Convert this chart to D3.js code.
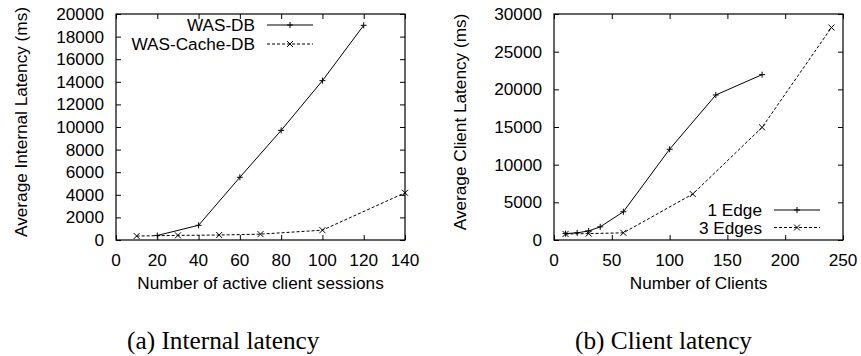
<!DOCTYPE html>
<html>
<head>
<meta charset="utf-8">
<script src="https://cdn.jsdelivr.net/npm/d3@7"></script>
<style>
  body { margin: 0; background: #fff; }
  text { font-family: "Liberation Sans", Arial, sans-serif; fill: #000; }
  .caption { font-family: "Liberation Serif", "Times New Roman", serif; }
</style>
</head>
<body>
<div id="chart"></div>
<script>
// (a) internal latency
var dbX = [20, 40, 60, 80, 100, 120];
var dbY = [400, 1300, 5550, 9700, 14100, 19000];
var cacheX = [10, 30, 50, 70, 100, 140];
var cacheY = [350, 410, 440, 520, 870, 4180];
var leftXTicks = [0, 20, 40, 60, 80, 100, 120, 140];
var leftYTicks = [0, 2000, 4000, 6000, 8000, 10000, 12000, 14000, 16000, 18000, 20000];

// (b) client latency
var edge1X = [10, 20, 30, 40, 60, 100, 140, 180];
var edge1Y = [850, 950, 1200, 1750, 3750, 12050, 19250, 21950];
var edge3X = [10, 30, 60, 120, 180, 240];
var edge3Y = [800, 850, 950, 6100, 14950, 28200];
var rightXTicks = [0, 50, 100, 150, 200, 250];
var rightYTicks = [0, 5000, 10000, 15000, 20000, 25000, 30000];

var W = 861, H = 356;
var fs = 17.2;

var svg = d3.select("#chart").append("svg")
  .attr("width", W).attr("height", H);

function zip(xs, ys) {
  return xs.map(function(x, i) { return { x: x, y: ys[i] }; });
}

function plusMark(g, x, y, s) {
  g.append("path").attr("d", `M${x - s},${y}H${x + s}M${x},${y - s}V${y + s}`)
    .attr("stroke", "#000").attr("stroke-width", 1);
}
function crossMark(g, x, y, s) {
  g.append("path").attr("d", `M${x - s},${y - s}L${x + s},${y + s}M${x - s},${y + s}L${x + s},${y - s}`)
    .attr("stroke", "#000").attr("stroke-width", 1);
}

function panel(cfg) {
  var x = d3.scaleLinear().domain(cfg.xDomain).range([cfg.left, cfg.right]);
  var y = d3.scaleLinear().domain(cfg.yDomain).range([240, 14]);
  var g = svg.append("g");

  // ticks, gnuplot style: inside, mirrored
  var tl = 5;
  g.append("g").attr("transform", "translate(0,240)")
    .call(d3.axisBottom(x).tickValues(cfg.xTicks).tickSizeInner(-tl).tickSizeOuter(0).tickPadding(0))
    .call(a => a.select(".domain").remove())
    .call(a => a.selectAll("text").remove());
  g.append("g").attr("transform", "translate(0,14)")
    .call(d3.axisTop(x).tickValues(cfg.xTicks).tickSizeInner(-tl).tickSizeOuter(0).tickFormat(""))
    .call(a => a.select(".domain").remove());
  g.append("g").attr("transform", `translate(${cfg.left},0)`)
    .call(d3.axisLeft(y).tickValues(cfg.yTicks).tickSizeInner(-tl).tickSizeOuter(0).tickFormat(""))
    .call(a => a.select(".domain").remove());
  g.append("g").attr("transform", `translate(${cfg.right},0)`)
    .call(d3.axisRight(y).tickValues(cfg.yTicks).tickSizeInner(-tl).tickSizeOuter(0).tickFormat(""))
    .call(a => a.select(".domain").remove());
  g.selectAll(".tick line").attr("stroke", "#000").attr("stroke-width", 1);

  // tick labels
  g.selectAll(".xl").data(cfg.xTicks).enter().append("text")
    .attr("x", d => x(d)).attr("y", 266)
    .attr("text-anchor", "middle").style("font-size", fs + "px")
    .text(d => d);
  g.selectAll(".yl").data(cfg.yTicks).enter().append("text")
    .attr("x", cfg.left - 12).attr("y", d => y(d) + 6)
    .attr("text-anchor", "end").style("font-size", fs + "px")
    .text(d => d);

  // frame
  g.append("rect").attr("x", cfg.left).attr("y", 14)
    .attr("width", cfg.right - cfg.left).attr("height", 226)
    .attr("fill", "none").attr("stroke", "#000").attr("stroke-width", 1.2);

  // titles
  g.append("text").attr("x", (cfg.left + cfg.right) / 2).attr("y", 289)
    .attr("text-anchor", "middle").style("font-size", fs + "px").text(cfg.xTitle);
  g.append("text")
    .attr("transform", `translate(${cfg.yTitleX},122) rotate(-90)`)
    .attr("text-anchor", "middle").attr("dy", "0.35em")
    .style("font-size", fs + "px").text(cfg.yTitle);

  var line = d3.line().x(d => x(d.x)).y(d => y(d.y));
  cfg.series.forEach(function(s, i) {
    var pts = zip(s.xs, s.ys);
    g.append("path").attr("d", line(pts))
      .attr("fill", "none").attr("stroke", "#000").attr("stroke-width", 1)
      .attr("stroke-dasharray", s.dashed ? "3,2" : null);
    pts.forEach(p => s.mark(g, x(p.x), y(p.y), 3));

    // legend
    var ly = cfg.legendY + i * cfg.legendStep;
    g.append("text").attr("x", cfg.legendX).attr("y", ly + 6)
      .attr("text-anchor", "end").style("font-size", fs + "px").text(s.name);
    g.append("line").attr("x1", cfg.legendX + 12).attr("x2", cfg.legendX + 58)
      .attr("y1", ly).attr("y2", ly)
      .attr("stroke", "#000").attr("stroke-width", 1)
      .attr("stroke-dasharray", s.dashed ? "3,2" : null);
    s.mark(g, cfg.legendX + 35, ly, 3);
  });

  g.append("text").attr("class", "caption")
    .attr("x", cfg.capX).attr("y", 349)
    .style("font-size", "25.3px").text(cfg.caption);
}

panel({
  left: 116, right: 405,
  xDomain: [0, 140], yDomain: [0, 20000],
  xTicks: leftXTicks, yTicks: leftYTicks,
  xTitle: "Number of active client sessions",
  yTitle: "Average Internal Latency (ms)", yTitleX: 21,
  legendX: 255, legendY: 25, legendStep: 19,
  series: [
    { name: "WAS-DB", xs: dbX, ys: dbY, dashed: false, mark: plusMark },
    { name: "WAS-Cache-DB", xs: cacheX, ys: cacheY, dashed: true, mark: crossMark }
  ],
  caption: "(a) Internal latency", capX: 127
});

panel({
  left: 554, right: 843,
  xDomain: [0, 250], yDomain: [0, 30000],
  xTicks: rightXTicks, yTicks: rightYTicks,
  xTitle: "Number of Clients",
  yTitle: "Average Client Latency (ms)", yTitleX: 460,
  legendX: 762, legendY: 210, legendStep: 17.5,
  series: [
    { name: "1 Edge", xs: edge1X, ys: edge1Y, dashed: false, mark: plusMark },
    { name: "3 Edges", xs: edge3X, ys: edge3Y, dashed: true, mark: crossMark }
  ],
  caption: "(b) Client latency", capX: 575
});
</script>
</body>
</html>
